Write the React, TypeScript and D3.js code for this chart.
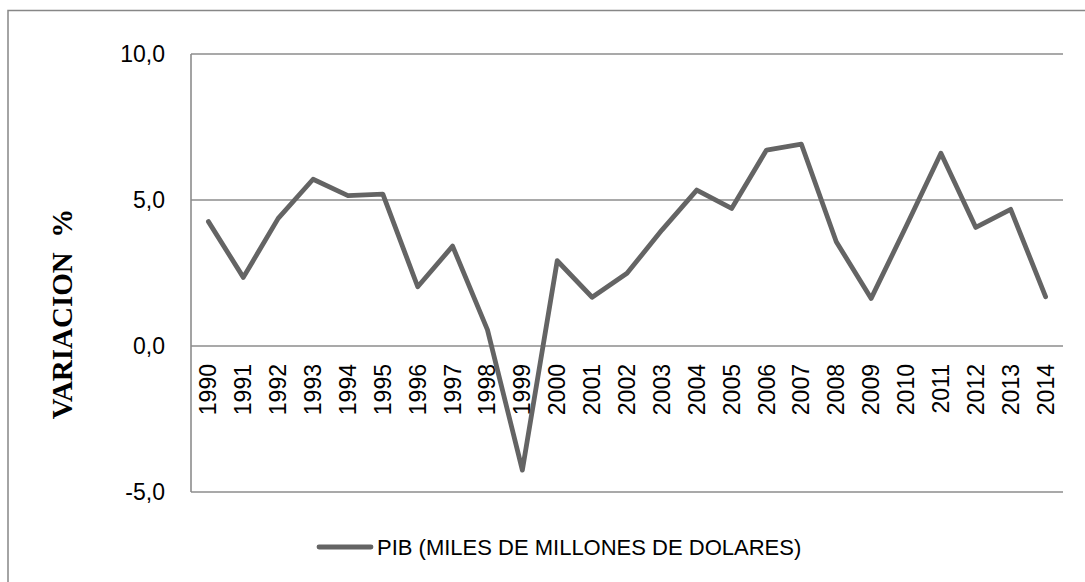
import React from "react";
import * as d3 from "d3";

const years = ["1990","1991","1992","1993","1994","1995","1996","1997","1998","1999","2000","2001","2002","2003","2004","2005","2006","2007","2008","2009","2010","2011","2012","2013","2014"];
const pib = [4.26, 2.35, 4.37, 5.71, 5.15, 5.2, 2.03, 3.42, 0.55, -4.25, 2.92, 1.67, 2.49, 3.97, 5.34, 4.71, 6.71, 6.91, 3.57, 1.63, 4.09, 6.6, 4.06, 4.68, 1.69];
const yTicks = [-5, 0, 5, 10];
const seriesName = "PIB (MILES DE MILLONES DE DOLARES)";
const yTitle = "VARIACION  %";

export default function App() {
  const W = 1085, H = 582;
  const left = 191, right = 1063, top = 54, bottom = 492;
  const x = d3.scaleBand<string>().domain(years).range([left, right]);
  const y = d3.scaleLinear().domain([-5, 10]).range([bottom, top]);
  const line = d3.line<number>()
    .x((_, i) => (x(years[i]) as number) + x.bandwidth() / 2)
    .y((d) => y(d));
  const sans = "'Liberation Sans', Arial, sans-serif";
  const gridColor = "#8c8c8c";
  const lineColor = "#646464";
  const fmt = (t: number) => t.toFixed(1).replace(".", ",");
  return (
    <svg width={W} height={H} style={{ position: "absolute", left: 0, top: 0, display: "block", background: "#fff" }}>
      <rect x={8} y={10.5} width={1300} height={1000} fill="none" stroke="#878787" strokeWidth={1.5} />
      {yTicks.map((t) => (
        <g key={t}>
          <line x1={left} x2={right} y1={y(t)} y2={y(t)} stroke={gridColor} strokeWidth={1.6} />
          <text x={165} y={y(t)} textAnchor="end" dominantBaseline="central" fontFamily={sans} fontSize={23} fill="#000">
            {fmt(t)}
          </text>
        </g>
      ))}
      <line x1={left} x2={left} y1={top} y2={bottom} stroke={gridColor} strokeWidth={1.6} />
      {years.map((yr) => {
        const cx = (x(yr) as number) + x.bandwidth() / 2;
        return (
          <text key={yr} transform={`translate(${cx},364) rotate(-90)`} textAnchor="end" dominantBaseline="central" fontFamily={sans} fontSize={23} fill="#000">
            {yr}
          </text>
        );
      })}
      <path d={line(pib) || ""} fill="none" stroke={lineColor} strokeWidth={4.8} strokeLinejoin="round" strokeLinecap="round" />
      <text transform={`translate(72,314) rotate(-90)`} textAnchor="middle" fontFamily="'Liberation Serif', 'Times New Roman', serif" fontWeight="bold" fontSize={29} fill="#000" style={{ whiteSpace: "pre" }}>
        {yTitle}
      </text>
      <line x1={319} x2={371} y1={547} y2={547} stroke={lineColor} strokeWidth={4.8} strokeLinecap="round" />
      <text x={377} y={555} fontFamily={sans} fontSize={22} fill="#000">{seriesName}</text>
    </svg>
  );
}
